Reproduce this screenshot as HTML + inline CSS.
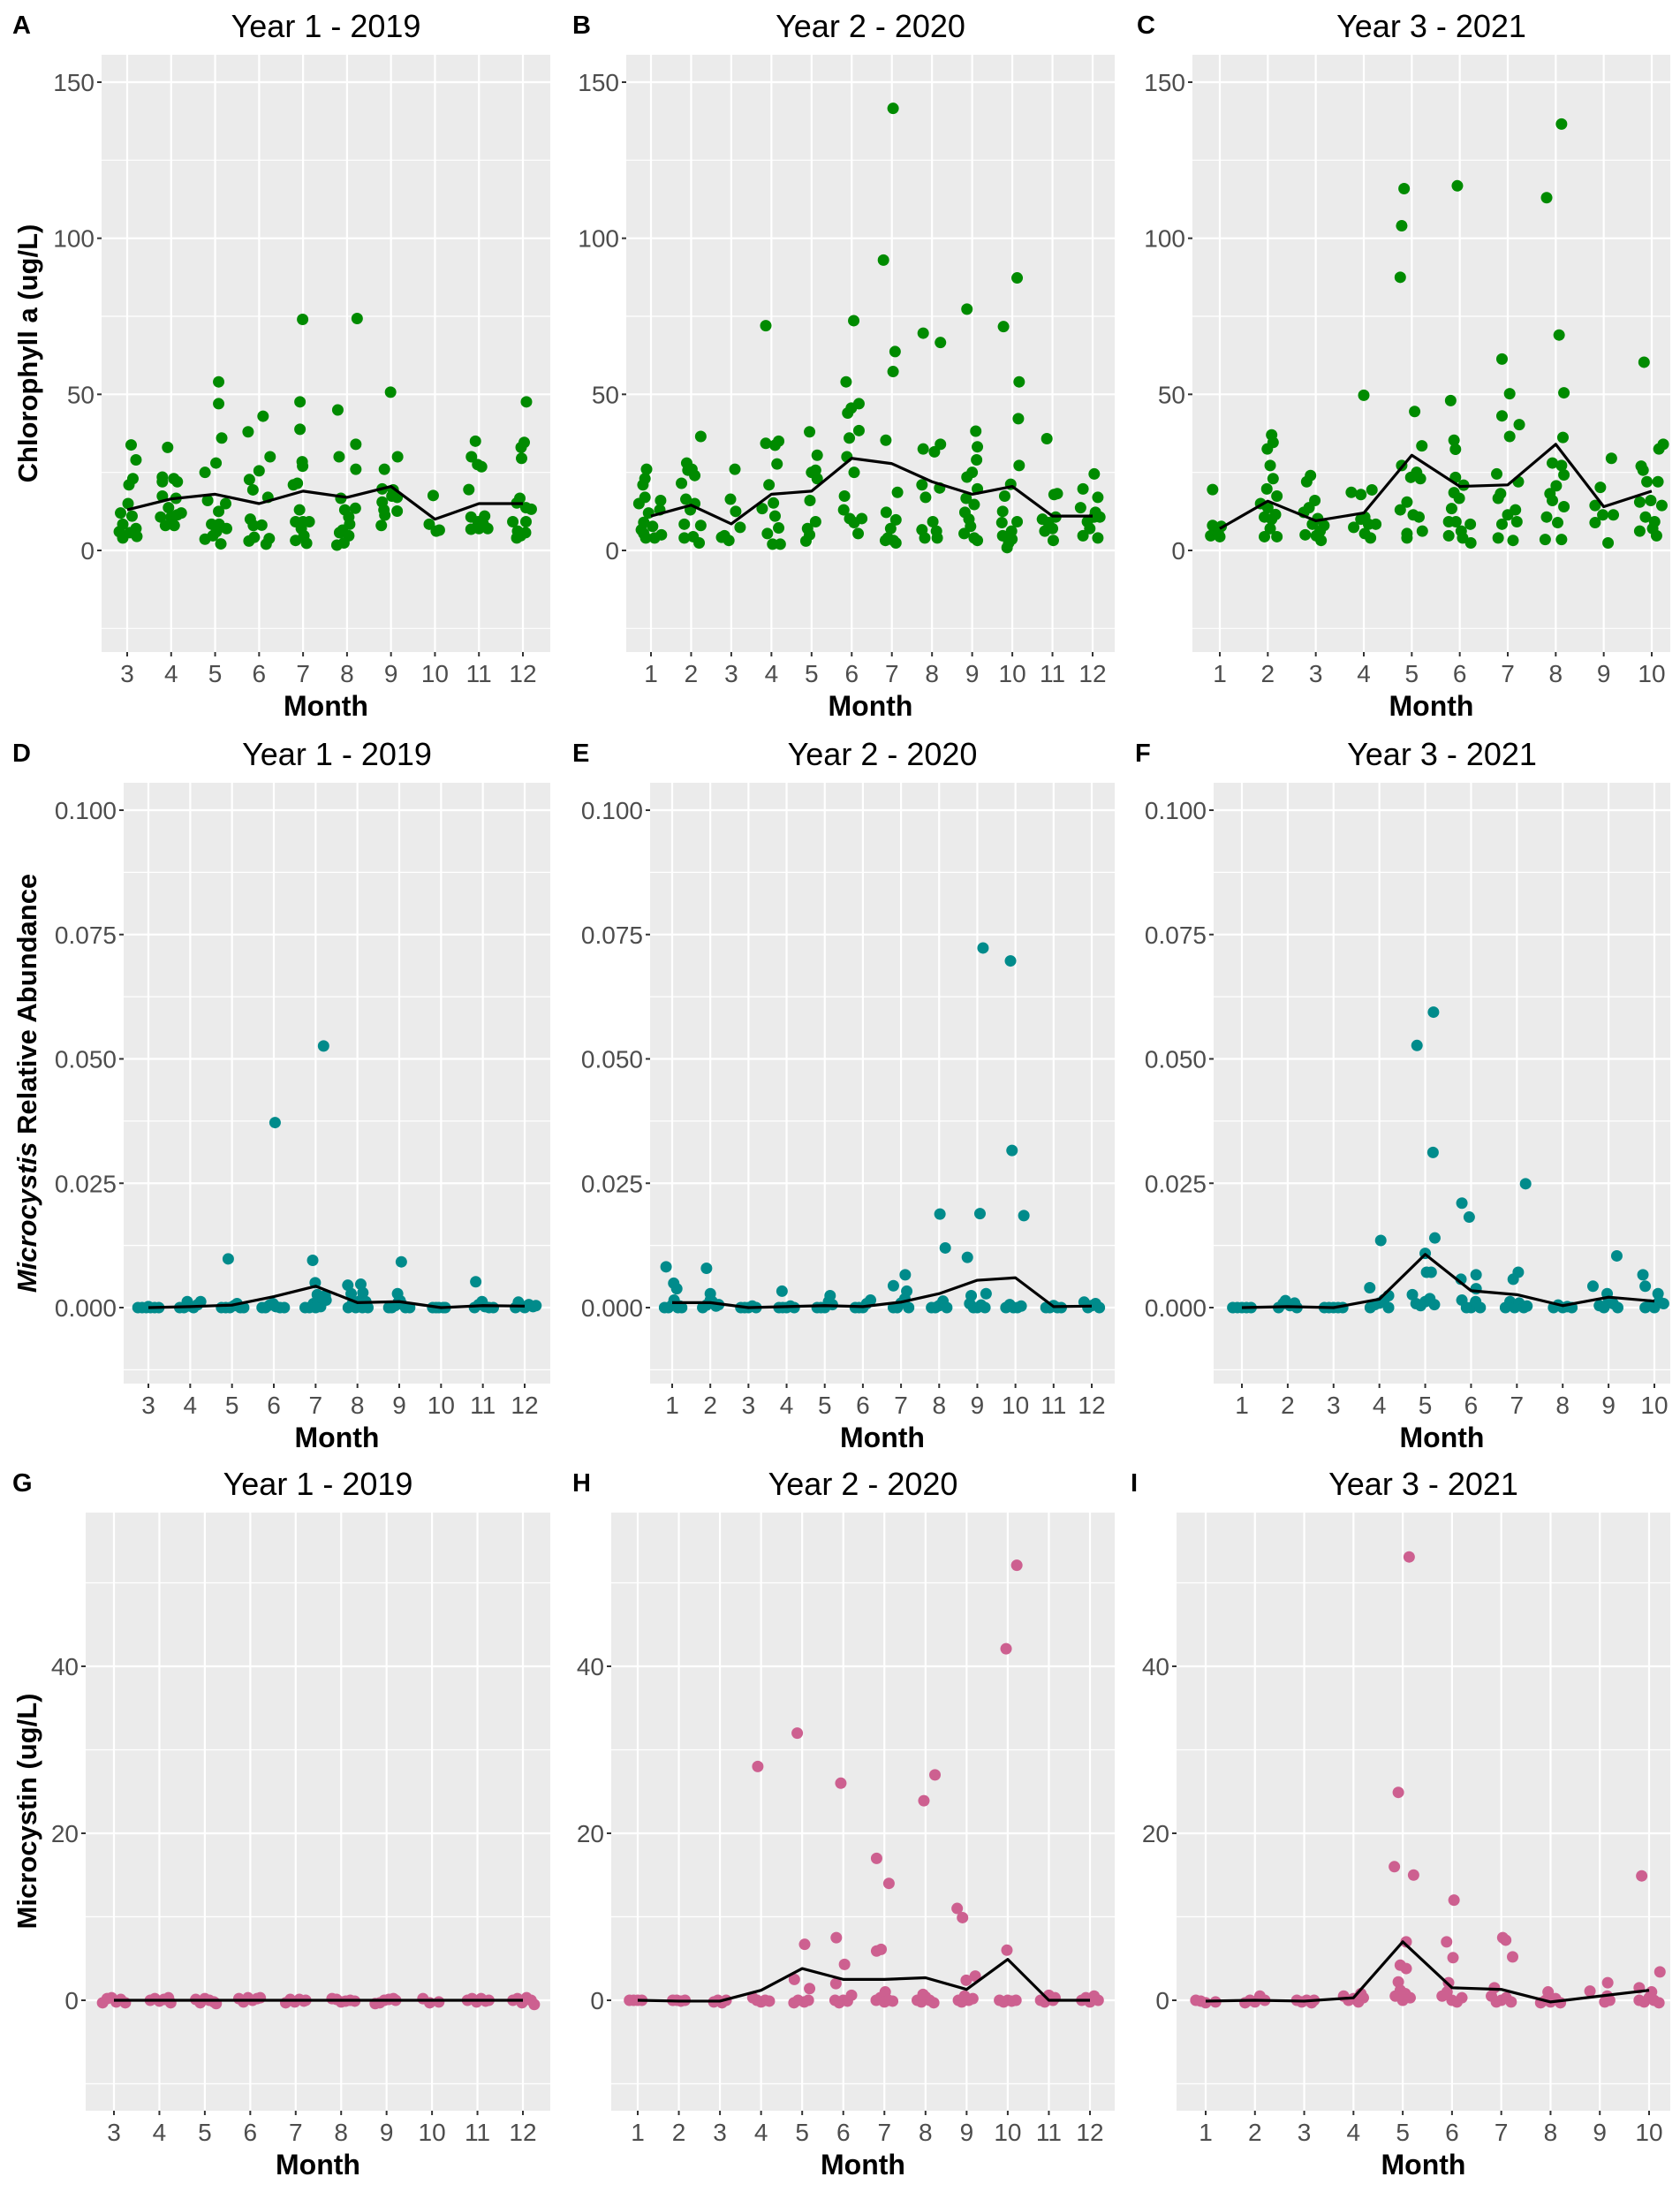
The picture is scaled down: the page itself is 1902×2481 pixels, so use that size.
<!DOCTYPE html>
<html><head><meta charset="utf-8"><style>
html,body{margin:0;padding:0;background:#fff;}
svg{display:block;font-family:"Liberation Sans",Arial,sans-serif;}
</style></head><body>
<svg id="fig" width="1902" height="2481" viewBox="0 0 1902 2481" xmlns="http://www.w3.org/2000/svg">
<rect x="0" y="0" width="1902" height="2481" fill="#fff"/>
</svg>
<script>
// ---------- DATA ----------
const monthsA=[3,4,5,6,7,8,9,10,11,12];
const monthsB=[1,2,3,4,5,6,7,8,9,10,11,12];
const monthsC=[1,2,3,4,5,6,7,8,9,10];
const chlTicks=[0,50,100,150];
const chlTickLabels=["0","50","100","150"];
const micTicks=[0,0.025,0.05,0.075,0.1];
const micTickLabels=["0.000","0.025","0.050","0.075","0.100"];
const mcTicks=[0,20,40];
const mcTickLabels=["0","20","40"];

const meanA=[13,16.5,18,15,19,17,20.5,10,15,15];
const meanB=[11,14.5,8.5,18,19,29.5,27.8,22,18,20.5,11,11];
const meanC=[7,15.8,9.5,12,30.5,20.5,21,34,14,19];
const meanD=[0,0.0002,0.0005,0.0022,0.0043,0.001,0.0012,0,0.0004,0.0003];
const meanE=[0.001,0.001,0,0.0002,0.0004,0.0002,0.0011,0.0028,0.0055,0.006,0.0002,0.0003];
const meanF=[0,0.0002,0,0.0017,0.0107,0.0034,0.0026,0.0004,0.0021,0.0013];
const meanG=[0,0,0,0,0,0,0,0,0,0];
const meanH=[0,-0.1,-0.1,1.2,3.8,2.5,2.5,2.7,1.3,4.9,0,0];
const meanI=[-0.1,0,-0.1,0.3,7,1.5,1.3,-0.2,0.5,1.2];

const ptsA=[[3.09,33.8],[3.2,29],[3.13,23],[3.04,21],[3.02,15],[2.85,12],[3.11,11],[2.9,8.4],[2.82,6],[3.2,7],[2.9,4],[3.22,4.5],[3.06,5.7],
[3.92,33],[3.8,23.5],[3.8,22],[4.06,23],[4.14,22],[3.8,17.4],[4.11,16.7],[3.94,13.7],[3.76,10.7],[4.0,10.7],[4.23,12],[3.87,8],[4.07,8],[4.14,11.4],
[5.08,54],[5.08,47],[5.15,36],[4.77,25],[5.02,28],[4.83,16],[5.08,12.5],[5.24,15],[4.92,8.4],[5.09,8.4],[5.26,7],[4.77,3.6],[4.95,4.7],[5.13,2.1],[5.03,6],
[6.09,43],[5.75,38],[6.0,25.5],[5.78,22.7],[5.86,19.4],[6.25,30],[6.2,17],[5.8,10],[5.87,8],[6.06,8.1],[5.77,3],[5.89,4.2],[6.23,3.8],[6.16,2],
[6.99,74],[6.93,47.6],[6.93,38.8],[6.98,28.4],[6.99,27],[6.87,21.5],[6.78,21],[6.92,13],[6.83,9.2],[7.0,9.2],[7.14,9.2],[6.96,7],[7.02,4.7],[6.83,3.2],[7.08,2.3],
[8.23,74.3],[7.79,45],[8.2,34],[7.82,30],[8.2,26],[7.86,16.7],[8.19,13.5],[7.95,13],[8.04,10.7],[8.06,8.4],[7.83,5.7],[7.9,6.5],[8.04,4.7],[7.77,1.7],[7.93,2.4],
[8.99,50.7],[8.85,26],[8.8,19.7],[9.05,19.4],[9.15,30],[9.14,17],[9.02,17.4],[8.8,15.5],[8.84,13],[8.86,11.3],[9.14,12.6],[8.78,8],
[9.96,17.6],[9.87,8.4],[10.03,6.2],[10.1,6.5],
[10.92,35],[10.83,30],[10.97,27.5],[11.06,26.8],[10.77,19.5],[10.82,10.7],[10.98,9.2],[11.13,11],[10.82,6.8],[11.0,7],[11.2,7],[11.1,8.4],
[12.08,47.6],[12.03,34.6],[11.96,33],[11.97,29.5],[11.93,16.7],[12.07,13.7],[12.19,13.2],[11.86,15.2],[12.07,9.2],[11.77,9.2],[11.88,6.2],[12.06,5.7],[11.86,4],[11.95,4.7]];

const ptsB=[[0.89,26],[0.85,23],[0.8,21],[0.85,17],[0.7,15],[1.24,16],[0.94,12],[0.82,9],[1.22,13],[0.82,5.4],[0.87,4],[1.09,4],[1.26,5],[1.04,7.7],[0.76,6.6],
[1.89,28],[2.02,26],[2.09,24],[1.76,21.5],[1.87,16.4],[2.09,15],[1.98,13],[1.83,8.4],[2.24,8],[1.83,4],[2.05,4.4],[2.2,2.4],[2.24,36.5],[1.92,25.7],
[3.09,26],[2.98,16.4],[3.11,12.5],[3.22,7.4],[2.83,4.7],[2.94,3.2],[2.76,4.2],
[3.86,72],[3.86,34.3],[4.18,35],[4.09,33.7],[4.14,27.7],[3.94,21],[4.05,15.2],[3.77,13.4],[4.09,11],[3.9,5.4],[4.18,7.2],[4.03,2],[4.22,2],
[4.95,38],[5.0,25],[5.14,30.5],[5.14,23],[5.1,25.7],[4.96,16],[5.1,9.2],[4.95,5],[4.9,7],[4.86,3],
[6.05,73.6],[5.86,54],[5.9,44],[5.99,45.6],[6.18,47],[5.94,36],[6.18,38.4],[5.88,30],[6.06,25],[5.82,17.4],[5.8,13],[5.95,10.2],[6.25,10.2],[6.06,8.9],[6.16,5.4],
[7.03,141.6],[6.79,93],[7.08,63.7],[7.03,57.3],[7.14,18.6],[6.85,35.3],[6.86,12.2],[7.1,9.8],[6.97,7],[6.84,3.2],[7.04,3.2],[6.9,4],[7.1,2.4],
[7.78,69.6],[8.21,66.6],[7.78,32.5],[8.06,31.6],[8.21,34],[7.75,21],[8.19,20],[7.84,17],[8.02,9.2],[7.75,6.6],[8.11,6.2],[7.82,4],[8.13,4],
[8.87,77.3],[9.09,38.2],[9.13,33.2],[9.11,29],[9.0,25],[8.87,23.5],[9.13,19.7],[8.85,16.7],[9.05,14.7],[8.82,12.2],[8.92,10],[8.96,7.7],[8.8,5.4],[9.13,3.2],[9.05,4],
[10.12,87.3],[9.78,71.7],[10.17,54],[10.15,42.2],[10.17,27.2],[9.96,21.2],[9.81,17.4],[9.76,12.5],[10.12,9.2],[9.74,8.9],[9.98,6.2],[9.76,4.7],[9.99,3.6],[9.87,0.9],[9.91,2.4],
[10.86,35.8],[11.12,18.2],[11.04,17.9],[10.75,10],[10.9,8.9],[11.08,10.7],[10.81,6.2],[11.02,3.2],[11.0,7],
[12.04,24.5],[11.76,19.7],[12.13,17],[11.7,13.7],[12.07,12.2],[12.04,10.7],[12.18,10.7],[11.87,9.2],[11.76,4.7],[12.13,4],[11.93,7]];

const ptsC=[[0.85,19.5],[0.85,8],[1.03,7.7],[0.92,6.2],[0.81,4.7],[1.0,4.4],[0.97,5.4],
[2.08,37],[2.11,34.6],[1.99,32.5],[2.05,27.2],[2.11,23],[1.98,19.7],[2.19,17.4],[1.85,15],[1.93,10.7],[2.08,10],[2.0,13.7],[2.16,11.5],[1.93,4.4],[2.19,4.4],[2.05,7],
[2.89,24],[2.81,22],[2.98,16],[2.75,12.2],[2.86,13.7],[3.04,10.2],[2.93,8.4],[3.17,8],[2.78,5],[3.09,6.2],[3.11,3.2],[3.01,4.7],
[4.0,49.7],[3.74,18.6],[3.94,17.9],[4.17,19.4],[3.79,7.4],[4.02,10.7],[4.1,8.4],[4.25,8.4],[4.02,5.4],[4.14,4],[3.94,10],
[4.84,115.9],[4.79,104],[4.76,87.5],[5.06,44.5],[5.21,33.5],[4.79,27.2],[4.98,23.4],[5.18,23],[5.1,25],[4.9,15.5],[4.76,13],[5.15,10.7],[5.03,11.4],[5.22,6.2],[4.9,5.4],[4.9,4],
[5.95,116.8],[5.81,48],[5.88,35.3],[5.91,32.4],[5.91,23.4],[6.08,20.9],[5.88,18.5],[5.99,16.7],[5.83,13.4],[5.92,9.2],[5.77,9.2],[6.22,8.4],[6.03,6.2],[5.77,4.7],[6.06,4],[6.23,2.4],
[6.88,61.3],[7.04,50.2],[6.88,43.1],[7.24,40.3],[7.04,36.5],[6.77,24.5],[7.22,22],[6.85,18.2],[6.8,16.7],[7.0,11.4],[7.16,13],[7.19,9.2],[6.88,8.4],[6.8,4],[7.11,3.2],
[8.12,136.6],[7.81,113],[8.07,69],[8.17,50.5],[8.15,36.2],[7.93,28],[8.12,27.2],[8.01,20.7],[8.17,24.2],[7.88,18.2],[7.93,16],[8.17,14],[7.81,10.7],[8.04,8.9],[7.78,3.5],[8.12,3.5],
[9.16,29.5],[8.93,20.2],[8.82,14.4],[8.98,11.4],[9.2,11.4],[8.82,8.9],[9.09,2.4],
[9.84,60.3],[9.78,27],[9.82,25.7],[9.9,22],[10.13,22],[10.24,34],[10.15,32.5],[9.75,15.5],[9.98,16],[10.21,14.4],[9.87,10.7],[10.06,9.2],[9.75,6.2],[10.02,7],[10.1,4.7]];

const ptsD=[[6.03,0.0372],[7.19,0.0526],[4.91,0.0098],[6.93,0.0095],[9.05,0.0092],[10.83,0.0052],[6.99,0.005],[7.77,0.0045],[8.08,0.0047],[8.13,0.003],[7.85,0.0028],[7.04,0.0026],[7.23,0.0024],[8.96,0.0028],[9.02,0.0014],
[2.75,0],[2.85,0],[2.95,0],[3.05,0],[3.15,0],[3.25,0],[3.0,0.0002],
[3.75,0],[3.85,0],[3.93,0.0012],[4.0,0.0003],[4.08,0],[4.18,0.0006],[4.25,0.0012],
[4.75,0],[4.85,0],[4.95,0],[5.05,0.0004],[5.12,0.0008],[5.2,0],[5.28,0],
[5.72,0],[5.8,0],[5.9,0.0005],[5.98,0.0008],[6.05,0.0002],[6.15,0],[6.25,0],
[6.75,0],[6.85,0],[6.95,0.0008],[7.05,0.0015],[7.12,0.0002],[7.18,0.0018],[7.25,0.0015],[7.0,0],
[7.78,0],[7.88,0.0008],[7.96,0],[8.05,0.0013],[8.12,0],[8.2,0.0012],[8.25,0],
[8.75,0],[8.82,0],[8.9,0.0004],[8.98,0.0011],[9.06,0.0007],[9.15,0],[9.25,0],
[9.8,0],[9.88,0],[9.95,0],[10.05,0],[10.1,0],
[10.8,0],[10.9,0.0006],[10.98,0.0012],[11.05,0.0002],[11.15,0],[11.25,0],
[11.78,0],[11.85,0.0011],[11.93,0.0003],[12.0,0],[12.1,0.0006],[12.2,0.0002],[12.27,0.0004]];

const ptsE=[[9.15,0.0723],[9.87,0.0697],[9.91,0.0316],[8.02,0.0188],[9.07,0.0189],[10.22,0.0185],[8.16,0.012],[8.74,0.0101],[0.84,0.0082],[1.9,0.0079],[6.8,0.0044],[7.11,0.0066],[3.88,0.0033],[1.04,0.0049],[1.12,0.0038],[7.15,0.0033],[5.14,0.0024],[9.23,0.0028],[8.84,0.0024],[2.0,0.0028],
[0.8,0],[0.9,0],[1.0,0.0005],[1.05,0.0015],[1.15,0],[1.2,0.0003],[1.25,0],
[1.8,0],[1.9,0.0005],[2.0,0.0015],[2.05,0.0012],[2.15,0.0003],[2.22,0.0006],
[2.8,0],[2.9,0],[3.0,0],[3.1,0.0003],[3.2,0],
[3.8,0],[3.9,0],[4.0,0],[4.1,0.0003],[4.2,0],
[4.8,0],[4.9,0],[5.0,0],[5.1,0.0012],[5.2,0.0006],
[5.8,0],[5.9,0],[6.0,0],[6.1,0.0008],[6.2,0.0015],
[6.8,0],[6.9,0],[7.0,0.0009],[7.1,0.0018],[7.2,0],
[7.8,0],[7.9,0],[8.0,0.0004],[8.1,0.0013],[8.2,0],
[8.8,0.0008],[8.9,0],[9.0,0],[9.1,0.0005],[9.2,0],
[9.75,0],[9.85,0.0006],[9.95,0],[10.05,0],[10.15,0.0003],
[10.8,0],[10.9,0],[11.0,0.0004],[11.1,0],[11.2,0],
[11.8,0.0011],[11.9,0],[12.0,0.0004],[12.1,0.0008],[12.2,0]];

const ptsF=[[5.18,0.0594],[4.82,0.0527],[5.17,0.0312],[7.19,0.0249],[5.8,0.021],[5.96,0.0182],[5.21,0.014],[4.03,0.0135],[9.18,0.0104],[5.0,0.0109],[5.13,0.0071],[5.03,0.0071],[7.03,0.0071],[6.92,0.0057],[6.11,0.0066],[5.78,0.0057],[9.75,0.0066],[3.79,0.004],[8.66,0.0043],[9.8,0.0043],[10.08,0.0028],[4.2,0.0024],[4.72,0.0026],[6.11,0.0038],[8.97,0.0028],
[0.8,0],[0.9,0],[1.0,0],[1.1,0],[1.2,0],
[1.8,0],[1.9,0.0008],[1.95,0.0014],[2.05,0.0004],[2.15,0.0009],[2.2,0],
[2.8,0],[2.9,0],[3.0,0],[3.1,0],[3.2,0],
[3.8,0],[3.9,0.0006],[4.0,0.0009],[4.1,0.0016],[4.2,0],
[4.8,0.0008],[4.9,0.0004],[5.0,0.0012],[5.1,0.0018],[5.2,0.0006],
[5.8,0.0015],[5.9,0],[6.0,0],[6.1,0.0012],[6.2,0],
[6.75,0],[6.85,0.0012],[6.95,0],[7.05,0.0009],[7.15,0],[7.22,0.0003],
[7.8,0],[7.9,0.0005],[8.0,0],[8.1,0.0002],[8.2,0],
[8.8,0.0004],[8.9,0],[9.0,0.0012],[9.1,0.0008],[9.2,0],
[9.8,0],[9.9,0.0005],[10.0,0],[10.1,0.0012],[10.2,0.0008]];

const ptsG=[[2.75,-0.3],[2.85,0.2],[2.95,0.3],[3.05,-0.2],[3.15,0.1],[3.25,-0.3],
[3.8,0],[3.9,0.2],[4.0,-0.1],[4.1,0.1],[4.2,0.3],[4.25,-0.3],
[4.8,0.1],[4.9,-0.3],[5.0,0.2],[5.1,0],[5.2,-0.2],[5.25,-0.4],
[5.75,0.2],[5.85,-0.2],[5.95,0.3],[6.05,0],[6.15,0.2],[6.22,0.3],
[6.78,-0.3],[6.88,0.1],[6.98,-0.2],[7.08,0.1],[7.18,-0.1],[7.22,0],
[7.8,0.2],[7.9,0.1],[8.0,-0.2],[8.1,-0.1],[8.2,0],[8.3,-0.1],
[8.75,-0.4],[8.85,-0.3],[8.95,0],[9.05,0.1],[9.15,0.2],[9.2,0],
[9.8,0.2],[9.95,-0.3],[10.15,-0.2],
[10.78,0],[10.88,0.2],[10.98,-0.2],[11.08,0.2],[11.18,-0.1],[11.25,0],
[11.78,0],[11.88,0.2],[11.98,-0.3],[12.08,0.3],[12.18,0],[12.25,-0.5]];

const ptsH=[[10.22,52.1],[9.96,42.1],[4.88,32],[3.92,28],[5.94,26],[8.23,27],[7.96,23.9],[6.81,17],[7.11,14],[8.77,11],[8.9,9.9],[5.83,7.5],[5.06,6.7],[6.81,5.9],[6.92,6.1],[9.98,6],[6.03,4.3],[9.21,2.9],[4.81,2.5],[8.99,2.4],[5.18,1.4],[5.82,2],[7.02,1],[7.94,0.7],
[0.8,0],[0.9,0],[1.0,0],[1.1,0],
[1.85,0],[1.95,0],[2.05,-0.1],[2.15,0],
[2.85,-0.2],[2.95,0],[3.05,-0.3],[3.15,0],
[3.8,0.3],[3.9,0],[4.0,-0.2],[4.1,0],[4.2,-0.1],
[4.8,-0.3],[4.9,0],[5.05,-0.2],[5.15,0],
[5.8,0],[5.9,-0.3],[6.0,0],[6.1,-0.1],[6.2,0.6],
[6.8,0],[6.9,0.3],[7.0,-0.2],[7.1,0],[7.2,-0.1],
[7.8,0],[7.9,-0.2],[8.0,0.4],[8.1,0],[8.2,-0.3],
[8.8,0],[8.88,-0.2],[8.95,0.5],[9.05,0],[9.15,0.2],
[9.8,0],[9.9,-0.2],[10.0,0],[10.1,-0.1],[10.2,0],
[10.8,0],[10.9,-0.2],[11.0,0.6],[11.1,0],[11.15,0.3],
[11.8,0],[11.9,0.3],[12.0,-0.2],[12.1,0.5],[12.2,0]];

const ptsI=[[5.13,53.1],[4.91,24.9],[4.83,16],[5.22,15],[9.85,14.9],[6.04,12],[7.03,7.5],[7.09,7.2],[5.89,7],[5.07,7],[6.02,5.1],[7.23,5.2],[4.95,4.2],[5.07,3.8],[10.22,3.4],[4.91,2.2],[9.16,2.1],[8.8,1.1],[5.93,2.1],[6.86,1.5],[9.8,1.5],[7.95,1],
[0.8,0],[0.9,-0.1],[1.0,-0.3],[1.2,-0.2],
[1.8,-0.3],[1.9,0],[2.0,-0.2],[2.1,0.5],[2.2,0],
[2.85,0],[2.95,-0.2],[3.05,0],[3.15,-0.3],[3.2,0],
[3.8,0.5],[3.9,0],[4.0,0.2],[4.1,-0.2],[4.15,0.8],[4.2,0.3],
[4.85,0.5],[4.95,1.2],[5.0,0],[5.05,0.8],[5.15,0.3],
[5.8,0.5],[5.9,1.0],[6.0,0],[6.1,-0.2],[6.2,0.3],
[6.8,0.5],[6.9,-0.2],[7.0,0],[7.1,0.3],[7.2,-0.2],
[7.8,-0.3],[7.9,0],[8.0,-0.2],[8.1,0.2],[8.2,-0.3],
[9.1,-0.2],[9.2,0],[9.15,0.5],
[9.8,0],[9.9,-0.2],[10.0,0.3],[10.1,0],[10.2,-0.3],[10.05,1.0]];

// ---------- LAYOUT ----------
const NS="http://www.w3.org/2000/svg";
const svg=document.getElementById('fig');
function el(tag,attrs,parent){const e=document.createElementNS(NS,tag);for(const k in attrs)e.setAttribute(k,attrs[k]);(parent||svg).appendChild(e);return e;}

const rows=[
 {T:62,B:738,y0:623,yr:93,rv:150,ticks:chlTicks,labels:chlTickLabels,minor:[-25,25,75,125],title:'chl'},
 {T:886,B:1566,y0:1480,yr:917,rv:0.1,ticks:micTicks,labels:micTickLabels,minor:[-0.0125,0.0125,0.0375,0.0625,0.0875],title:'mic'},
 {T:1712,B:2389,y0:2264,yr:1886,rv:40,ticks:mcTicks,labels:mcTickLabels,minor:[-10,10,30,50],title:'mc'}
];
const panels=[
 {id:'a',letter:'A',row:0,L:115,R:623,months:monthsA,x0:144,x1:592,pts:ptsA,mean:meanA,col:'#008B00',title:'Year 1 - 2019',lx:14},
 {id:'b',letter:'B',row:0,L:709,R:1262,months:monthsB,x0:737,x1:1237,pts:ptsB,mean:meanB,col:'#008B00',title:'Year 2 - 2020',lx:648},
 {id:'c',letter:'C',row:0,L:1350,R:1891,months:monthsC,x0:1381,x1:1870,pts:ptsC,mean:meanC,col:'#008B00',title:'Year 3 - 2021',lx:1287},
 {id:'d',letter:'D',row:1,L:140,R:623,months:monthsA,x0:168,x1:594,pts:ptsD,mean:meanD,col:'#008B8B',title:'Year 1 - 2019',lx:14},
 {id:'e',letter:'E',row:1,L:736,R:1262,months:monthsB,x0:761,x1:1236,pts:ptsE,mean:meanE,col:'#008B8B',title:'Year 2 - 2020',lx:648},
 {id:'f',letter:'F',row:1,L:1374,R:1891,months:monthsC,x0:1406,x1:1873,pts:ptsF,mean:meanF,col:'#008B8B',title:'Year 3 - 2021',lx:1285},
 {id:'g',letter:'G',row:2,L:97,R:623,months:monthsA,x0:129,x1:592,pts:ptsG,mean:meanG,col:'#CD6090',title:'Year 1 - 2019',lx:14},
 {id:'h',letter:'H',row:2,L:692,R:1262,months:monthsB,x0:722,x1:1234,pts:ptsH,mean:meanH,col:'#CD6090',title:'Year 2 - 2020',lx:648},
 {id:'i',letter:'I',row:2,L:1332,R:1891,months:monthsC,x0:1365,x1:1867,pts:ptsI,mean:meanI,col:'#CD6090',title:'Year 3 - 2021',lx:1280}
];

panels.forEach(p=>{
 const r=rows[p.row];
 const m0=p.months[0], m1=p.months[p.months.length-1];
 const xs=m=>p.x0+(m-m0)*(p.x1-p.x0)/(m1-m0);
 const ys=v=>r.y0-v*(r.y0-r.yr)/r.rv;
 const g=el('g',{});
 
 
 const bg=el('rect',{x:p.L,y:r.T,width:p.R-p.L,height:r.B-r.T,fill:'#EBEBEB'},g);
 
 
 r.minor.forEach(v=>{const y=ys(v);if(y>r.T&&y<r.B){const l=el('line',{x1:p.L,x2:p.R,y1:y,y2:y,stroke:'#fff','stroke-width':1.2},g);
  
  }});
 r.ticks.forEach(v=>{const y=ys(v);const l=el('line',{x1:p.L,x2:p.R,y1:y,y2:y,stroke:'#fff','stroke-width':2.2},g);
  
  });
 p.months.forEach(m=>{const x=xs(m);const l=el('line',{x1:x,x2:x,y1:r.T,y2:r.B,stroke:'#fff','stroke-width':2.2},g);
  
  });
 r.ticks.forEach((v,i)=>{const y=ys(v);
  const t=el('line',{x1:p.L-5,x2:p.L,y1:y,y2:y,stroke:'#333','stroke-width':2},g);
  
  
  const tx=el('text',{x:p.L-8,y:y+10,'text-anchor':'end','font-size':28,fill:'#4D4D4D'},g);
  tx.textContent=r.labels[i];
  
  });
 p.months.forEach(m=>{const x=xs(m);
  const t=el('line',{x1:x,x2:x,y1:r.B,y2:r.B+5,stroke:'#333','stroke-width':2},g);
  
  
  const tx=el('text',{x:x,y:r.B+34,'text-anchor':'middle','font-size':28,fill:'#4D4D4D'},g);
  tx.textContent=String(m);
  
  });
 p.pts.forEach(d=>{const c=el('circle',{cx:xs(d[0]),cy:ys(d[1]),r:6.5,fill:p.col},g);
  
  });
 const pl=el('polyline',{points:p.months.map((m,i)=>xs(m)+','+ys(p.mean[i])).join(' '),fill:'none',stroke:'#000','stroke-width':3.2,'stroke-linejoin':'round'},g);
 
 
 const tt=el('text',{x:(p.L+p.R)/2,y:r.T-20,'text-anchor':'middle','font-size':36,fill:'#000'},g);
 tt.textContent=p.title;
 
 
 const lt=el('text',{x:p.lx,y:r.T-24,'font-size':29,'font-weight':'bold',fill:'#000'},g);
 lt.textContent=p.letter;
 
 
 const xt=el('text',{x:(p.L+p.R)/2,y:r.B+72,'text-anchor':'middle','font-size':32,'font-weight':'bold',fill:'#000'},g);
 xt.textContent='Month';
 
 
});

function ytitle(cx,cy,parts,name){
 const t=el('text',{x:0,y:0,transform:'translate('+cx+','+cy+') rotate(-90)','text-anchor':'middle','dominant-baseline':'central','font-size':31,'font-weight':'bold',fill:'#000'});
 
 
 parts.forEach(pt=>{const s=el('tspan',pt.italic?{'font-style':'italic'}:{},t);s.textContent=pt.t;});
}
ytitle(31,400,[{t:'Chlorophyll a (ug/L)'}],'y-axis-title-chlorophyll');
ytitle(30,1226,[{t:'Microcystis',italic:true},{t:' Relative Abundance'}],'y-axis-title-microcystis');
ytitle(30,2050,[{t:'Microcystin (ug/L)'}],'y-axis-title-microcystin');
</script>
</body></html>
